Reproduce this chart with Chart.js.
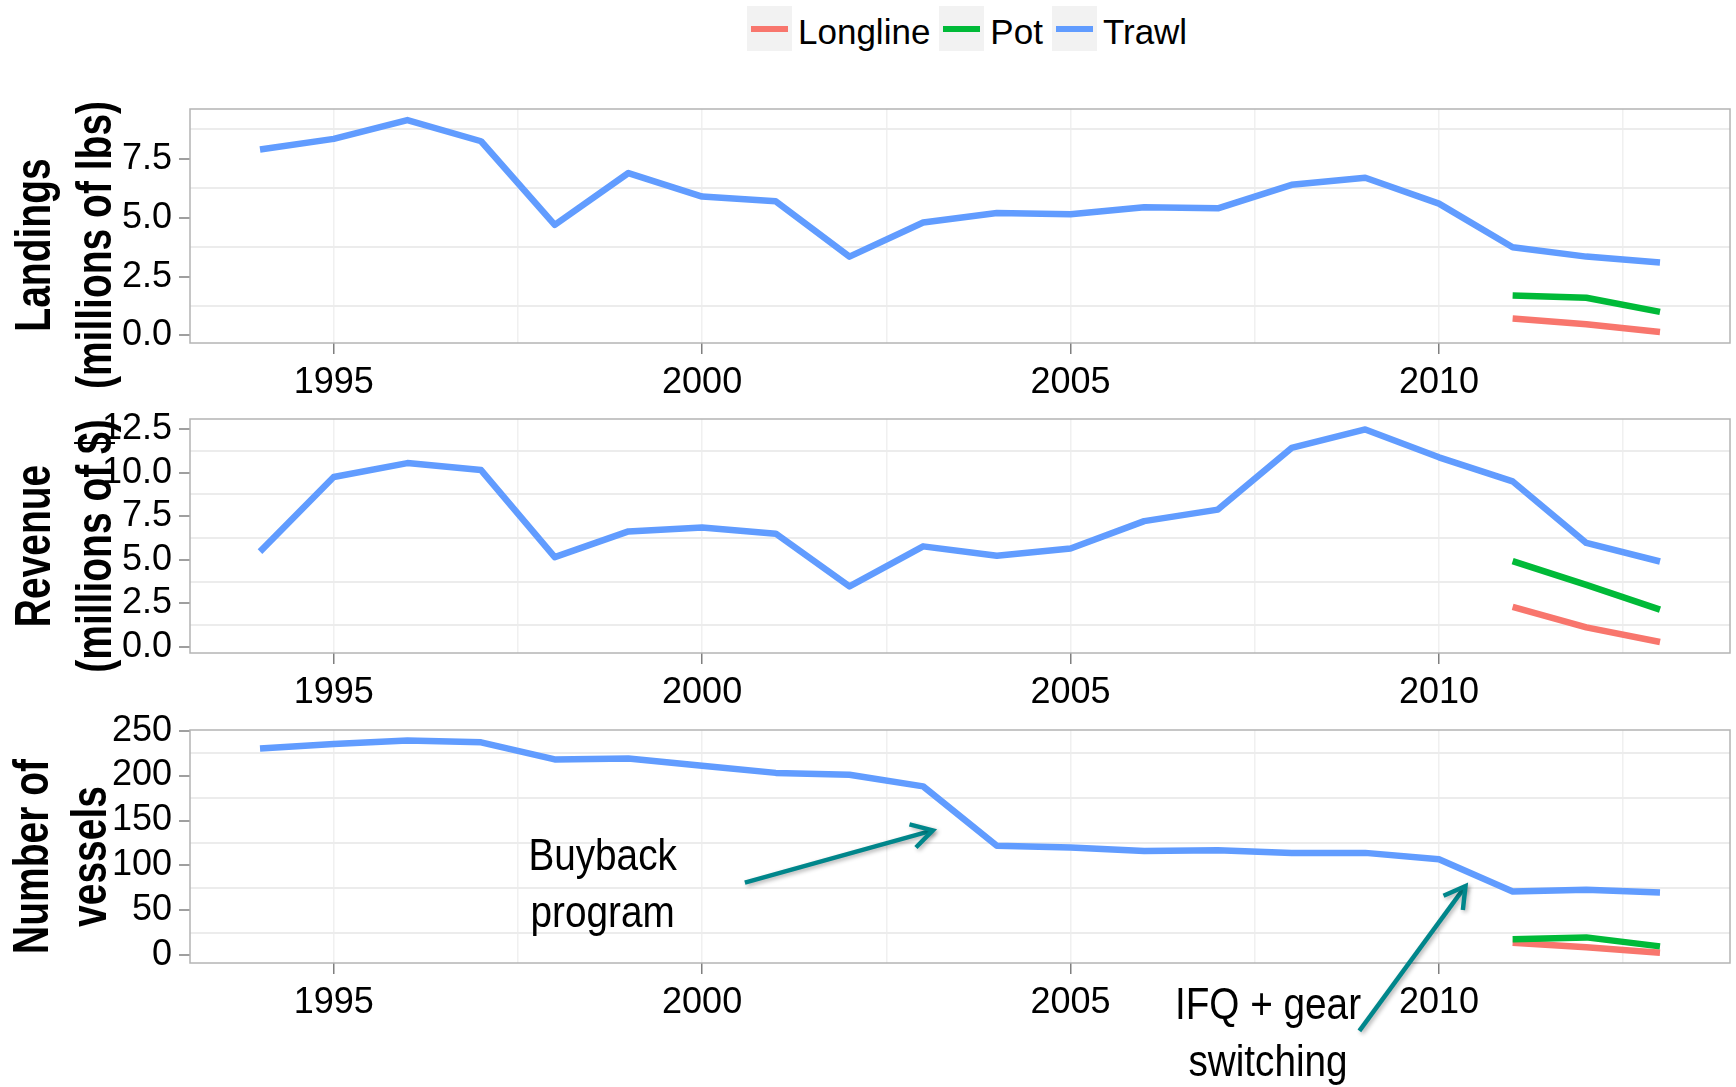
<!DOCTYPE HTML>
<html lang="en">
<head>
  <meta http-equiv="content-type" content="text/html; charset=UTF-8">
  <script src="https://cdn.jsdelivr.net/npm/chart.js"></script>
  <style>
    body { margin:0; background:#fff; font-family:"Liberation Sans", Arial, sans-serif; }
    #page { position:relative; width:1736px; height:1087px; overflow:hidden; }
    .panel { position:absolute; left:0; width:1736px; }
    #legend { position:absolute; left:747px; top:6px; display:flex; align-items:center; }
    .key { width:45px; height:45px; background:#f2f2f2; display:flex; align-items:center; justify-content:center; }
    .key span { display:block; width:37px; height:6px; }
    .lab { font-size:35px; margin:0 9px 0 6px; position:relative; top:3px; color:#000; }
  </style>
</head>

<body>
  <div id="page">
    <div id="legend"></div>
    <div class="panel" style="top:60px;height:340px"><canvas id="c_land"></canvas></div>
    <div class="panel" style="top:400px;height:310px"><canvas id="c_rev"></canvas></div>
    <div class="panel" style="top:710px;height:377px"><canvas id="c_ves"></canvas></div>
  </div>

  <script>
    // ---- data ----
    const years = [1994, 1995, 1996, 1997, 1998, 1999, 2000, 2001, 2002, 2003,
                   2004, 2005, 2006, 2007, 2008, 2009, 2010, 2011, 2012, 2013];
    const gearYears = [2011, 2012, 2013];

    const trawlLandings = [7.9, 8.35, 9.15, 8.25, 4.7, 6.9, 5.9, 5.7, 3.35, 4.8,
                           5.2, 5.15, 5.45, 5.4, 6.4, 6.7, 5.6, 3.75, 3.35, 3.1];
    const potLandings = [1.7, 1.6, 1.0];
    const longlineLandings = [0.72, 0.48, 0.15];

    const trawlRevenue = [5.47, 9.75, 10.55, 10.15, 5.15, 6.63, 6.85, 6.5, 3.47, 5.77,
                          5.23, 5.65, 7.22, 7.88, 11.42, 12.48, 10.88, 9.5, 5.97, 4.9];
    const potRevenue = [4.92, 3.56, 2.14];
    const longlineRevenue = [2.3, 1.12, 0.28];

    const trawlVessels = [230, 235, 239, 237, 218, 219, 211, 203, 201, 188,
                          122, 120, 116, 117, 114, 114, 107, 71, 73, 70];
    const potVessels = [18, 20, 10];
    const longlineVessels = [14, 9, 3];

    const seriesNames = ['Longline', 'Pot', 'Trawl'];
    const seriesColors = ['#F8766D', '#00BA38', '#619CFF'];

    const yearTicks = [1995, 2000, 2005, 2010];
    const landingsTicks = [0, 2.5, 5, 7.5];
    const revenueTicks = [0, 2.5, 5, 7.5, 10, 12.5];
    const vesselTicks = [0, 50, 100, 150, 200, 250];

    const notes = [
      { lines: ['Buyback', 'program'], x: 1998.65, y: 77 },
      { lines: ['IFQ + gear', 'switching'], x: 2007.68, y: -89 }
    ];
    const arrows = [
      { from: [2000.58, 81], to: [2003.13, 139] },
      { from: [2008.92, -84], to: [2010.36, 77] }
    ];

    const FONT = '"Liberation Sans", Arial, sans-serif';

    // ---- legend ----
    const legend = document.getElementById('legend');
    seriesNames.forEach((name, i) => {
      legend.insertAdjacentHTML('beforeend',
        '<div class="key"><span style="background:' + seriesColors[i] + '"></span></div>' +
        '<div class="lab">' + name + '</div>');
    });

    // ---- plugins ----
    const frame = {
      id: 'frame',
      afterDraw(chart) {
        const a = chart.chartArea, ctx = chart.ctx;
        ctx.save();
        ctx.strokeStyle = '#b4b4b4';
        ctx.lineWidth = 1.5;
        ctx.strokeRect(a.left, a.top, a.right - a.left, a.bottom - a.top);
        ctx.restore();
      }
    };

    const sideTitle = {
      id: 'sideTitle',
      afterDraw(chart, args, opts) {
        const a = chart.chartArea, ctx = chart.ctx;
        const cy = (a.top + a.bottom) / 2 + opts.dy;
        ctx.save();
        ctx.fillStyle = '#000';
        ctx.font = 'bold 50px ' + FONT;
        ctx.textAlign = 'center';
        ctx.textBaseline = 'alphabetic';
        opts.lines.forEach((line, i) => {
          ctx.save();
          ctx.translate(opts.x[i], cy);
          ctx.rotate(-Math.PI / 2);
          ctx.scale(0.78, 1);
          ctx.fillText(line, 0, 0);
          ctx.restore();
        });
        ctx.restore();
      }
    };

    const callouts = {
      id: 'callouts',
      afterDraw(chart, args, opts) {
        if (!opts.notes) return;
        const ctx = chart.ctx, xs = chart.scales.x, ys = chart.scales.y;
        ctx.save();
        ctx.fillStyle = '#000';
        ctx.font = '45px ' + FONT;
        ctx.textAlign = 'center';
        ctx.textBaseline = 'middle';
        const lh = 57;
        opts.notes.forEach(n => {
          const px = xs.getPixelForValue(n.x), py = ys.getPixelForValue(n.y);
          n.lines.forEach((line, i) => {
            ctx.save();
            ctx.translate(px, py + (i - (n.lines.length - 1) / 2) * lh);
            ctx.scale(0.86, 1);
            ctx.fillText(line, 0, 0);
            ctx.restore();
          });
        });
        ctx.strokeStyle = '#00868b';
        ctx.lineWidth = 4.5;
        ctx.lineCap = 'butt';
        ctx.lineJoin = 'miter';
        ctx.shadowColor = 'rgba(0,0,0,0.3)';
        ctx.shadowBlur = 4;
        ctx.shadowOffsetX = 2;
        ctx.shadowOffsetY = 2;
        opts.arrows.forEach(ar => {
          const x1 = xs.getPixelForValue(ar.from[0]), y1 = ys.getPixelForValue(ar.from[1]);
          const x2 = xs.getPixelForValue(ar.to[0]), y2 = ys.getPixelForValue(ar.to[1]);
          const ang = Math.atan2(y2 - y1, x2 - x1), len = 24, spread = Math.PI / 6;
          ctx.beginPath();
          ctx.moveTo(x1, y1);
          ctx.lineTo(x2, y2);
          ctx.stroke();
          ctx.beginPath();
          ctx.moveTo(x2 - len * Math.cos(ang - spread), y2 - len * Math.sin(ang - spread));
          ctx.lineTo(x2, y2);
          ctx.lineTo(x2 - len * Math.cos(ang + spread), y2 - len * Math.sin(ang + spread));
          ctx.stroke();
        });
        ctx.restore();
      }
    };

    // major ticks interleaved with midpoints for the light grid
    function withMinor(majors, min, max) {
      const half = (majors[1] - majors[0]) / 2;
      const out = [];
      majors.forEach(m => {
        out.push({ value: m });
        if (m + half <= max) out.push({ value: m + half });
      });
      return out.filter(t => t.value >= min);
    }

    function makePanel(id, trawl, pot, longline, yTicks, yMin, yMax, decimals, pad, title, extra) {
      const gearData = [longline, pot, trawl];
      const datasets = seriesNames.map((name, i) => {
        const xv = name === 'Trawl' ? years : gearYears;
        return {
          label: name,
          data: xv.map((x, j) => ({ x: x, y: gearData[i][j] })),
          borderColor: seriesColors[i],
          backgroundColor: seriesColors[i],
          borderWidth: 6.5,
          borderCapStyle: 'butt',
          borderJoinStyle: 'round',
          pointRadius: 0,
          tension: 0,
          order: 2 - i
        };
      });
      const tickFont = { family: FONT, size: 36 };
      return new Chart(document.getElementById(id), {
        type: 'line',
        data: { datasets: datasets },
        options: {
          animation: false,
          responsive: true,
          maintainAspectRatio: false,
          layout: { padding: { left: 0, right: 6, top: pad[0], bottom: pad[1] } },
          plugins: {
            legend: { display: false },
            tooltip: { enabled: false },
            sideTitle: title,
            callouts: extra || {}
          },
          scales: {
            x: {
              type: 'linear',
              min: 1993.05,
              max: 2013.95,
              afterBuildTicks: s => { s.ticks = withMinor(yearTicks, 1993.05, 2013.95); },
              afterFit: s => { s.height = 50; s.paddingLeft = 0; s.paddingRight = 0; },
              border: { display: false },
              grid: {
                color: '#f0f0f0',
                lineWidth: 1.5,
                tickLength: 11,
                tickWidth: 1.5,
                tickColor: c => c.index % 2 ? 'rgba(0,0,0,0)' : '#7f7f7f'
              },
              ticks: {
                autoSkip: false, maxRotation: 0, minRotation: 0, padding: 7,
                color: '#000', font: tickFont,
                callback: (v, i) => i % 2 ? '' : String(v)
              }
            },
            y: {
              min: yMin,
              max: yMax,
              afterBuildTicks: s => { s.ticks = withMinor(yTicks, yMin, yMax); },
              afterFit: s => { s.width = 190; s.paddingTop = 0; s.paddingBottom = 0; },
              border: { display: false },
              grid: {
                color: c => c.index % 2 ? '#ececec' : 'rgba(0,0,0,0)',
                lineWidth: 2,
                tickLength: 11,
                tickWidth: 1.5,
                tickColor: c => c.index % 2 ? 'rgba(0,0,0,0)' : '#7f7f7f'
              },
              ticks: {
                autoSkip: false, padding: 7,
                color: '#000', font: tickFont,
                callback: (v, i) => i % 2 ? '' : v.toFixed(decimals)
              }
            }
          }
        },
        plugins: [frame, sideTitle, callouts]
      });
    }

    function main() {
      makePanel('c_land', trawlLandings, potLandings, longlineLandings,
                landingsTicks, -0.32, 9.62, 1, [49, 7],
                { lines: ['Landings', '(millions of lbs)'], x: [50, 111], dy: 19 });
      makePanel('c_rev', trawlRevenue, potRevenue, longlineRevenue,
                revenueTicks, -0.35, 13.08, 1, [19, 7],
                { lines: ['Revenue', '(millions of $)'], x: [50, 111], dy: 10 });
      makePanel('c_ves', trawlVessels, potVessels, longlineVessels,
                vesselTicks, -8.5, 250.7, 0, [20, 74],
                { lines: ['Number of', 'vessels'], x: [48, 106], dy: 10 },
                { notes: notes, arrows: arrows });
    }

    window.addEventListener('DOMContentLoaded', main);
  </script>
</body>
</html>
